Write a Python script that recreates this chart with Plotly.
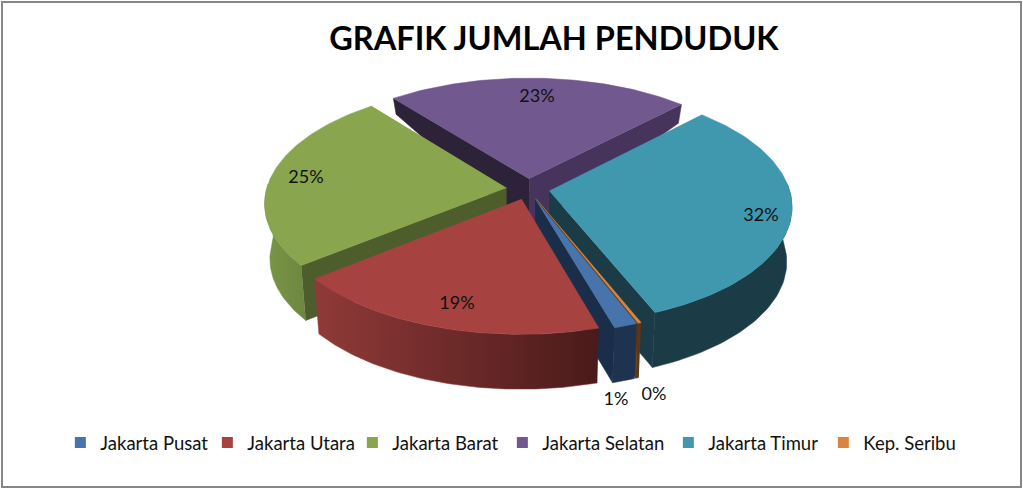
import numpy as np
import plotly.graph_objects as go

# ---- data ----
title_text = "GRAFIK JUMLAH PENDUDUK"
categories = ["Jakarta Pusat", "Jakarta Utara", "Jakarta Barat", "Jakarta Selatan", "Jakarta Timur", "Kep. Seribu"]
values = [1.4, 18.9, 24.9, 23.1, 31.5, 0.2]

# ---- styles ----
top_colors = ["#4674AB", "#A64340", "#89A54E", "#71588F", "#4098AF", "#DB843D"]
wall_left = ["#1E3350", "#8F3A38", "#7B9546", "#3A2C4C", "#1B3C47", "#5C3615"]
wall_right = ["#1E3350", "#4A1A1A", "#6E8740", "#3A2C4C", "#1B3C47", "#5C3615"]
cut_start = ["#1A2E4A", "#4A1A1A", "#4D5D2C", "#2D2339", "#1B3C47", "#5C3615"]
cut_end = ["#1A2E4A", "#4A1A1A", "#4D5D2C", "#47345C", "#1B3C47", "#5C3615"]
legend_widths = [102, 100, 105, 121, 110, 90]
label_x = [616, 457, 306, 537, 761, 654]
label_y = [400, 304, 178, 97, 216, 395]

# ---- view parameters of the tilted disc ----
CX, CY, RX, RY, PERSP, EXPLODE = 528, 189, 240, 115.6, 0.125, 0.09
START_DEG = 68.5
LEAN = 0.98


def project(X, Y):
    d = 1 - PERSP * Y
    return CX + RX * X / d, CY + RY * Y / d


def depth(Y):
    return np.where(Y >= 0, 55.0, 55.0 + 45.0 * Y)


def lean(x):
    return CX + (x - CX) * LEAN


def poly(xs, ys, color=None, grad=None):
    kw = dict(x=xs, y=ys, mode="lines", fill="toself", line=dict(width=0.5, color=color or grad[0]),
              hoverinfo="skip", showlegend=False)
    if grad:
        kw["fillgradient"] = dict(type="horizontal", colorscale=[[0, grad[0]], [1, grad[1]]])
        kw["fillcolor"] = grad[0]
    else:
        kw["fillcolor"] = color
    return go.Scatter(**kw)


total = sum(values)
edges = START_DEG + np.concatenate([[0], np.cumsum(values)]) * 360.0 / total
fig = go.Figure()

# back-to-front painting order of the slices
for i in [3, 2, 4, 5, 0, 1]:
    a0, a1 = np.radians(edges[i]), np.radians(edges[i + 1])
    mid = (a0 + a1) / 2
    ox, oy = EXPLODE * np.cos(mid), EXPLODE * np.sin(mid)
    t = np.linspace(a0, a1, 90)
    DX, DY = ox + np.cos(t), oy + np.sin(t)
    sx, sy = project(DX, DY)
    ax, ay = project(np.array(ox), np.array(oy))
    ax, ay = float(ax), float(ay)
    ad = float(depth(np.array(oy)))
    # radial cut faces that look towards the viewer
    for k, col, seen in ((0, cut_start[i], -np.cos(a0) > 0), (-1, cut_end[i], np.cos(a1) > 0)):
        if seen:
            fig.add_trace(poly([ax, sx[k], float(lean(sx[k])), float(lean(ax))],
                               [ay, sy[k], sy[k] + depth(DY)[k], ay + ad], color=col))
    # curved outer wall
    wall = DY > -0.05
    if wall.any():
        wx, wy = sx[wall], sy[wall]
        wb = wy + depth(DY)[wall]
        fig.add_trace(poly(np.r_[wx, lean(wx)[::-1]], np.r_[wy, wb[::-1]], grad=(wall_left[i], wall_right[i])))
    # top face
    fig.add_trace(poly(np.r_[ax, sx], np.r_[ay, sy], color=top_colors[i]))

# percentage labels
fig.add_trace(go.Scatter(x=label_x, y=label_y, mode="text",
                         text=[f"{v / total * 100:.0f}%" for v in values],
                         textfont=dict(family="Lato", size=18, color="#111111"),
                         hoverinfo="skip", showlegend=False))

# legend entries
for name, col, w in zip(categories, top_colors, legend_widths):
    fig.add_trace(go.Scatter(x=[None], y=[None], mode="markers", name=name, legendwidth=w,
                             marker=dict(symbol="square", size=11, color=col)))

fig.update_layout(
    width=1023, height=489, margin=dict(l=0, r=0, t=0, b=0),
    paper_bgcolor="white", plot_bgcolor="white",
    xaxis=dict(range=[0, 1023], visible=False, fixedrange=True),
    yaxis=dict(range=[489, 0], visible=False, fixedrange=True),
    title=dict(text=f"<b>{title_text}</b>", x=0.5415, xanchor="center", y=0.922, yanchor="middle",
               font=dict(family="Lato", size=32.5, color="#000000")),
    legend=dict(orientation="h", x=0.059, xanchor="left", y=0.094, yanchor="middle",
                font=dict(family="Lato", size=18.5, color="#111111"), itemclick=False, itemdoubleclick=False,
                bgcolor="rgba(0,0,0,0)"),
    shapes=[dict(type="rect", xref="x", yref="y", x0=2, y0=2, x1=1021, y1=487,
                 line=dict(color="#868686", width=2), fillcolor="rgba(0,0,0,0)", layer="below")],
)
fig.write_html("out.html", config={"displayModeBar": False},
               post_script="document.body.style.margin='0';document.body.style.overflow='hidden';")
